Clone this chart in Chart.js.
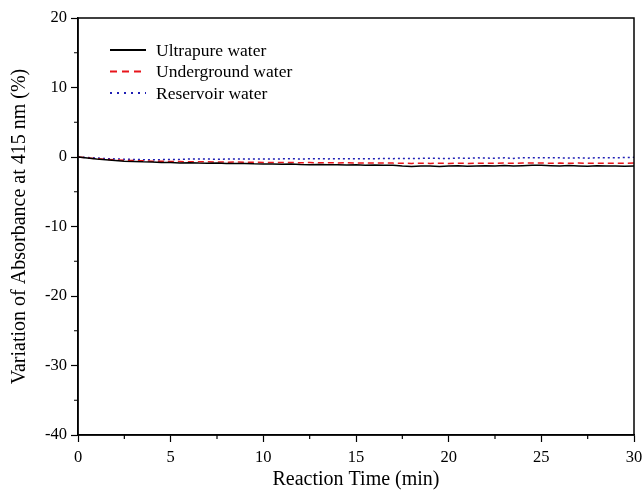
<!DOCTYPE html>
<html>
<head>
<meta charset="utf-8">
<script src="https://cdn.jsdelivr.net/npm/chart.js@4"></script>
<style>
  html,body{margin:0;padding:0;background:#fff;}
  #wrap{width:644px;height:496px;}
</style>
</head>
<body>
<div id="wrap"><canvas id="chart" width="644" height="496"></canvas></div>
<script>
// reaction time, min
const times=[0,0.5,1,1.5,2,2.5,3,3.5,4,4.5,5,5.5,6,6.5,7,7.5,8,8.5,9,9.5,10,10.5,11,11.5,12,12.5,13,13.5,14,14.5,15,15.5,16,16.5,17,17.5,18,18.5,19,19.5,20,20.5,21,21.5,22,22.5,23,23.5,24,24.5,25,25.5,26,26.5,27,27.5,28,28.5,29,29.5,30];

const ultrapure=[0,-0.15,-0.3,-0.4,-0.5,-0.6,-0.65,-0.7,-0.72,-0.78,-0.8,-0.85,-0.82,-0.88,-0.9,-0.87,-0.92,-0.95,-0.93,-0.98,-1.0,-1.02,-1.05,-1.0,-1.08,-1.1,-1.08,-1.12,-1.1,-1.15,-1.12,-1.18,-1.15,-1.2,-1.18,-1.3,-1.35,-1.28,-1.3,-1.35,-1.3,-1.25,-1.32,-1.28,-1.25,-1.3,-1.22,-1.28,-1.25,-1.2,-1.18,-1.25,-1.3,-1.22,-1.28,-1.32,-1.25,-1.3,-1.28,-1.32,-1.3];

const underground=[0,-0.12,-0.25,-0.33,-0.4,-0.48,-0.52,-0.55,-0.6,-0.62,-0.65,-0.66,-0.68,-0.7,-0.7,-0.72,-0.74,-0.73,-0.75,-0.76,-0.78,-0.8,-0.78,-0.8,-0.82,-0.8,-0.84,-0.82,-0.85,-0.84,-0.86,-0.85,-0.88,-0.86,-0.88,-0.9,-0.92,-0.9,-0.92,-0.9,-0.93,-0.9,-0.92,-0.9,-0.88,-0.9,-0.88,-0.9,-0.87,-0.88,-0.86,-0.9,-0.88,-0.9,-0.87,-0.9,-0.88,-0.9,-0.88,-0.9,-0.88];

const reservoir=[0,-0.08,-0.15,-0.22,-0.28,-0.32,-0.35,-0.38,-0.4,-0.38,-0.36,-0.34,-0.3,-0.28,-0.3,-0.32,-0.3,-0.28,-0.3,-0.27,-0.28,-0.3,-0.27,-0.25,-0.28,-0.26,-0.25,-0.27,-0.24,-0.25,-0.26,-0.24,-0.25,-0.22,-0.24,-0.2,-0.22,-0.2,-0.18,-0.2,-0.22,-0.15,-0.18,-0.12,-0.15,-0.18,-0.12,-0.2,-0.1,-0.12,-0.1,-0.12,-0.12,-0.15,-0.12,-0.18,-0.1,-0.12,-0.1,-0.08,-0.05];

const seriesNames=["Ultrapure water","Underground water","Reservoir water"];
const xMinorTicks=[2.5,7.5,12.5,17.5,22.5,27.5];
const yMinorTicks=[15,5,-5,-15,-25,-35];

const FONT="'Liberation Serif','Times New Roman',serif";

const toPoints=(vals)=>vals.map((v,i)=>({x:times[i],y:v}));

// box around the plot + minor ticks
const framePlugin={
  id:"frame",
  afterDraw(chart){
    const ctx=chart.ctx;
    const a=chart.chartArea;
    const xs=chart.scales.x, ys=chart.scales.y;
    ctx.save();
    ctx.strokeStyle="#000";
    ctx.lineWidth=1.5;
    ctx.strokeRect(a.left,a.top,a.right-a.left,a.bottom-a.top);
    ctx.lineWidth=1.2;
    ctx.beginPath();
    xMinorTicks.forEach(v=>{
      const px=xs.getPixelForValue(v);
      ctx.moveTo(px,a.bottom);ctx.lineTo(px,a.bottom+4);
    });
    yMinorTicks.forEach(v=>{
      const py=ys.getPixelForValue(v);
      ctx.moveTo(a.left,py);ctx.lineTo(a.left-4,py);
    });
    ctx.stroke();
    ctx.restore();
  }
};

// legend drawn inside the plot, top left
const legendPlugin={
  id:"innerLegend",
  afterDatasetsDraw(chart){
    const ctx=chart.ctx;
    ctx.save();
    ctx.font="17.5px "+FONT;
    ctx.textBaseline="middle";
    const dashes=[[],[7,5],[2,5]];
    chart.data.datasets.forEach((ds,i)=>{
      const y=50+i*21.5;
      ctx.beginPath();
      ctx.strokeStyle=ds.borderColor;
      ctx.lineWidth=2;
      ctx.setLineDash(dashes[i]);
      ctx.moveTo(110,y);ctx.lineTo(146,y);
      ctx.stroke();
      ctx.setLineDash([]);
      ctx.fillStyle="#000";
      ctx.fillText(ds.label,156,y+1);
    });
    ctx.restore();
  }
};

new Chart(document.getElementById("chart"),{
  type:"line",
  data:{
    datasets:[
      {label:seriesNames[0],data:toPoints(ultrapure),borderColor:"#000",borderWidth:1.5,pointRadius:0},
      {label:seriesNames[1],data:toPoints(underground),borderColor:"#e8141b",borderWidth:1.5,borderDash:[6,4],pointRadius:0},
      {label:seriesNames[2],data:toPoints(reservoir),borderColor:"#1f1fb4",borderWidth:1.5,borderDash:[2,3],pointRadius:0}
    ]
  },
  options:{
    responsive:false,
    animation:false,
    layout:{padding:{top:18,right:10,left:0,bottom:0}},
    plugins:{legend:{display:false},tooltip:{enabled:false}},
    scales:{
      x:{
        type:"linear",min:0,max:30,
        afterFit(s){s.height=61;s.paddingLeft=0;s.paddingRight=0;},
        grid:{drawOnChartArea:false,tickLength:7,tickColor:"#000",tickWidth:1.2},
        border:{display:true,color:"#000",width:1.5},
        ticks:{stepSize:5,color:"#000",font:{family:FONT,size:16.5},padding:6,maxRotation:0},
        title:{display:true,text:"Reaction Time (min)",color:"#000",font:{family:FONT,size:20},padding:{top:3}}
      },
      y:{
        min:-40,max:20,
        afterFit(s){s.width=78;s.paddingTop=0;s.paddingBottom=0;},
        grid:{drawOnChartArea:false,tickLength:7,tickColor:"#000",tickWidth:1.2},
        border:{display:true,color:"#000",width:1.5},
        ticks:{stepSize:10,color:"#000",font:{family:FONT,size:16.5},padding:4},
        title:{display:true,text:"Variation of Absorbance at 415 nm (%)",color:"#000",font:{family:FONT,size:20},padding:{top:8,bottom:0}}
      }
    }
  },
  plugins:[framePlugin,legendPlugin]
});
</script>
</body>
</html>
